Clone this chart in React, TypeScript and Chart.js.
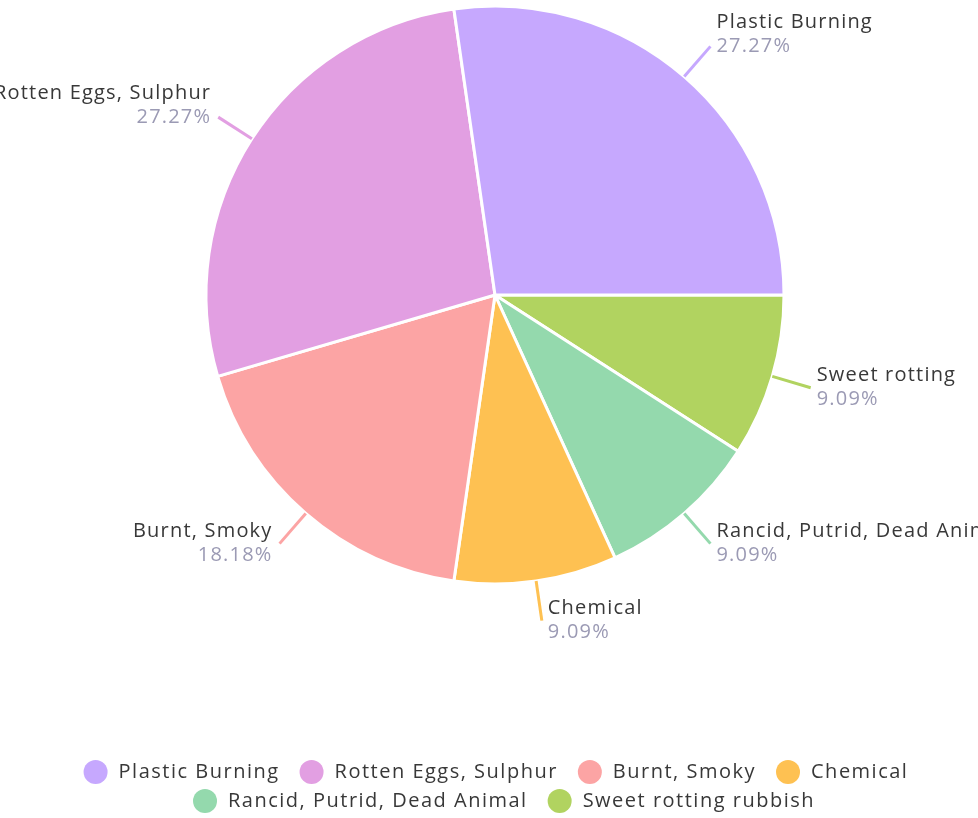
import React, { useEffect, useRef } from "react";
import { Chart, registerables } from "chart.js";

Chart.register(...registerables);

const categories = [
  "Plastic Burning",
  "Rotten Eggs, Sulphur",
  "Burnt, Smoky",
  "Chemical",
  "Rancid, Putrid, Dead Animal",
  "Sweet rotting rubbish",
];
const shortLabels = [
  "Plastic Burning",
  "Rotten Eggs, Sulphur",
  "Burnt, Smoky",
  "Chemical",
  "Rancid, Putrid, Dead Animal",
  "Sweet rotting",
];
const counts = [3, 3, 2, 1, 1, 1];
const colors = ["#c6a8fe", "#e29fe2", "#fca4a4", "#fec152", "#94d9ad", "#b1d360"];

const FONT = "'Open Sans', 'Noto Sans', sans-serif";
const NAME_COLOR = "#383838";
const PCT_COLOR = "#9b9ab4";
const SPACING = "1.2px";
const LEGEND_SPACING = "1.5px";

export default function App() {
  const ref = useRef<HTMLCanvasElement | null>(null);

  useEffect(() => {
    const canvas = ref.current;
    if (!canvas) return;
    // pie is drawn counter-clockwise from 3 o'clock in the reference: reverse order
    const order = categories.map((_, i) => categories.length - 1 - i);
    const total = counts.reduce((a, b) => a + b, 0);

    const labelPlugin = {
      id: "outerLabels",
      afterDatasetsDraw(chart: any) {
        const ctx = chart.ctx;
        const meta = chart.getDatasetMeta(0);
        meta.data.forEach((arc: any, j: number) => {
          const i = order[j];
          const { x, y, startAngle, endAngle, outerRadius } = arc.getProps(
            ["x", "y", "startAngle", "endAngle", "outerRadius"],
            true
          );
          const mid = (startAngle + endAngle) / 2;
          const c = Math.cos(mid);
          const s = Math.sin(mid);
          const L = 40;
          const x1 = x + outerRadius * c;
          const y1 = y + outerRadius * s;
          const x2 = x + (outerRadius + L) * c;
          const y2 = y + (outerRadius + L) * s;
          ctx.save();
          ctx.strokeStyle = colors[i];
          ctx.lineWidth = 3;
          ctx.beginPath();
          ctx.moveTo(x1, y1);
          ctx.lineTo(x2, y2);
          ctx.stroke();
          const right = c >= -0.05;
          const tx = right ? x2 + 6 : x2 - 7;
          let nameY: number, pctY: number;
          if (s < 0) {
            pctY = y2;
            nameY = y2 - 24;
          } else {
            nameY = y2 - 12;
            pctY = y2 + 12;
          }
          ctx.textAlign = right ? "left" : "right";
          ctx.textBaseline = "middle";
          ctx.font = `20px ${FONT}`;
          (ctx as any).letterSpacing = SPACING;
          ctx.fillStyle = NAME_COLOR;
          ctx.fillText(shortLabels[i], tx, nameY);
          ctx.fillStyle = PCT_COLOR;
          ctx.fillText(((counts[i] / total) * 100).toFixed(2) + "%", tx, pctY);
          ctx.restore();
        });
      },
    };

    const legendPlugin = {
      id: "customLegend",
      afterDraw(chart: any) {
        const ctx = chart.ctx;
        const W = chart.width;
        ctx.save();
        ctx.font = `20px ${FONT}`;
        (ctx as any).letterSpacing = LEGEND_SPACING;
        const R = 12;
        const gapText = 11;
        const gapItem = 20;
        const widths = categories.map((c) => 2 * R + gapText + ctx.measureText(c).width);
        const rows: number[][] = [];
        let cur: number[] = [];
        let curW = 0;
        const maxW = W - 40;
        widths.forEach((w, i) => {
          const add = cur.length ? gapItem + w : w;
          if (curW + add > maxW && cur.length) {
            rows.push(cur);
            cur = [i];
            curW = w;
          } else {
            cur.push(i);
            curW += add;
          }
        });
        if (cur.length) rows.push(cur);
        const rowY = [772, 801];
        rows.forEach((row, r) => {
          const rw = row.reduce((a, i, k) => a + widths[i] + (k ? gapItem : 0), 0);
          let xx = W / 2 - rw / 2 + 7 + r * 8;
          const yy = rowY[r] ?? 772 + r * 29;
          row.forEach((i) => {
            ctx.fillStyle = colors[i];
            ctx.beginPath();
            ctx.arc(xx + R, yy, R, 0, Math.PI * 2);
            ctx.fill();
            ctx.fillStyle = NAME_COLOR;
            ctx.textAlign = "left";
            ctx.textBaseline = "middle";
            ctx.fillText(categories[i], xx + 2 * R + gapText, yy);
            xx += widths[i] + gapItem;
          });
        });
        ctx.restore();
      },
    };

    const chart = new Chart(canvas, {
      type: "pie",
      data: {
        labels: order.map((i) => categories[i]),
        datasets: [
          {
            data: order.map((i) => counts[i]),
            backgroundColor: order.map((i) => colors[i]),
            borderColor: "#ffffff",
            borderWidth: 3,
          },
        ],
      },
      options: {
        animation: false,
        responsive: true,
        maintainAspectRatio: false,
        rotation: 90,
        radius: 289,
        layout: { padding: { left: 12, right: 0, top: 0, bottom: 228 } },
        plugins: {
          legend: { display: false },
          tooltip: { enabled: false },
        },
      },
      plugins: [labelPlugin, legendPlugin],
    });
    return () => chart.destroy();
  }, []);

  return (
    <div style={{ position: "fixed", left: 0, top: 0, width: 978, height: 818, background: "#fff" }}>
      <canvas ref={ref} />
    </div>
  );
}
